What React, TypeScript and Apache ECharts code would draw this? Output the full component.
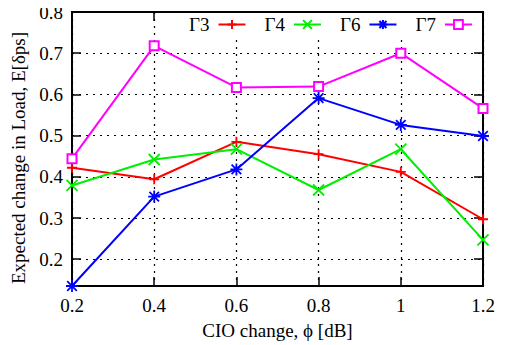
import React, { useEffect, useRef } from "react";
import * as echarts from "echarts";

// CIO change steps (dB)
const phiValues = [0.2, 0.4, 0.6, 0.8, 1.0, 1.2];

// Expected change in load for each scenario
const gamma3 = [0.422, 0.394, 0.485, 0.455, 0.412, 0.297];
const gamma4 = [0.379, 0.442, 0.467, 0.368, 0.467, 0.247];
const gamma6 = [0.135, 0.352, 0.418, 0.591, 0.526, 0.499];
const gamma7 = [0.444, 0.718, 0.617, 0.619, 0.7, 0.566];

const yTicks = [0.2, 0.3, 0.4, 0.5, 0.6, 0.7, 0.8];

const seriesNames = ["Γ3", "Γ4", "Γ6", "Γ7"];
const seriesColors = ["#ff0000", "#00ee00", "#0000ff", "#ff00ff"];

// stroke-only marker glyphs
const plusPath = "path://M0,-1V1M-1,0H1";
const crossPath = "path://M-1,-1L1,1M-1,1L1,-1";
const starPath = "path://M0,-1V1M-1,0H1M-0.8,-0.8L0.8,0.8M-0.8,0.8L0.8,-0.8";

const FONT = "Liberation Serif";
const FS = 19;

export default function App() {
  const ref = useRef<HTMLDivElement>(null);

  useEffect(() => {
    if (!ref.current) return;
    const chart = echarts.init(ref.current, undefined, { renderer: "svg" });

    const pairs = (ys: number[]) => phiValues.map((x, i) => [x, ys[i]]);
    const dataSets = [gamma3, gamma4, gamma6, gamma7];
    const symbols = [plusPath, crossPath, starPath, "emptyRect"];
    const sizes = [10, 11, 12, 9];

    const series = dataSets.map((ys, i) => ({
      name: seriesNames[i],
      type: "line",
      data: pairs(ys),
      symbol: symbols[i],
      symbolSize: sizes[i],
      showAllSymbol: true,
      lineStyle: { color: seriesColors[i], width: 2 },
      itemStyle:
        i === 3
          ? { color: seriesColors[i], borderColor: seriesColors[i], borderWidth: 1.5 }
          : { color: "transparent", borderColor: seriesColors[i], borderWidth: 1.8 },
      emphasis: { disabled: true },
      z: 3 + i,
    }));

    const tickStyle = { color: "#000", width: 1.5 };
    const dotted = { show: true, lineStyle: { color: "#000", width: 1.2, type: [2, 5] } };
    const txt = { color: "#000", fontFamily: FONT, fontSize: FS };

    chart.setOption({
      animation: false,
      grid: {
        left: 72,
        right: 23,
        top: 12,
        bottom: 59,
        show: true,
        borderColor: "#000",
        borderWidth: 2,
        backgroundColor: "transparent",
      },
      legend: {
        data: seriesNames,
        left: 183,
        top: 13,
        orient: "horizontal",
        align: "right",
        itemWidth: 27,
        itemHeight: 11,
        itemGap: 18,
        padding: [2, 6, 5, 6],
        backgroundColor: "#fff",
        textStyle: { ...txt, padding: [0, 4, 0, 0] },
        z: 10,
      },
      xAxis: [
        {
          type: "value",
          position: "bottom",
          min: 0.2,
          max: 1.2,
          interval: 0.2,
          name: "CIO change, ϕ [dB]",
          nameLocation: "middle",
          nameGap: 35,
          nameTextStyle: { ...txt },
          axisLine: { show: false },
          axisTick: { show: true, inside: true, length: 9, lineStyle: tickStyle },
          axisLabel: { ...txt, margin: 10 },
          splitLine: dotted,
        },
        {
          type: "value",
          position: "top",
          min: 0.2,
          max: 1.2,
          interval: 0.2,
          axisLine: { show: false },
          axisTick: { show: true, inside: true, length: 9, lineStyle: tickStyle },
          axisLabel: { show: false },
          splitLine: { show: false },
        },
      ],
      yAxis: [
        {
          type: "value",
          position: "left",
          min: 0.135,
          max: 0.8,
          name: "Expected change in Load, E[δps]",
          nameLocation: "middle",
          nameGap: 31,
          nameTextStyle: { ...txt, padding: [0, 18, 0, 0] },
          axisLine: { show: false },
          axisTick: {
            show: true,
            inside: true,
            length: 9,
            customValues: yTicks,
            lineStyle: tickStyle,
          },
          axisLabel: { ...txt, margin: 9, customValues: yTicks },
          splitLine: dotted,
        },
        {
          type: "value",
          position: "right",
          min: 0.135,
          max: 0.8,
          axisLine: { show: false },
          axisTick: {
            show: true,
            inside: true,
            length: 9,
            customValues: yTicks,
            lineStyle: tickStyle,
          },
          axisLabel: { show: false, customValues: yTicks },
          splitLine: { show: false },
        },
      ],
      series,
    });

    return () => chart.dispose();
  }, []);

  return <div ref={ref} style={{ width: 506, height: 345, marginLeft: -8, marginTop: -8 }} />;
}
